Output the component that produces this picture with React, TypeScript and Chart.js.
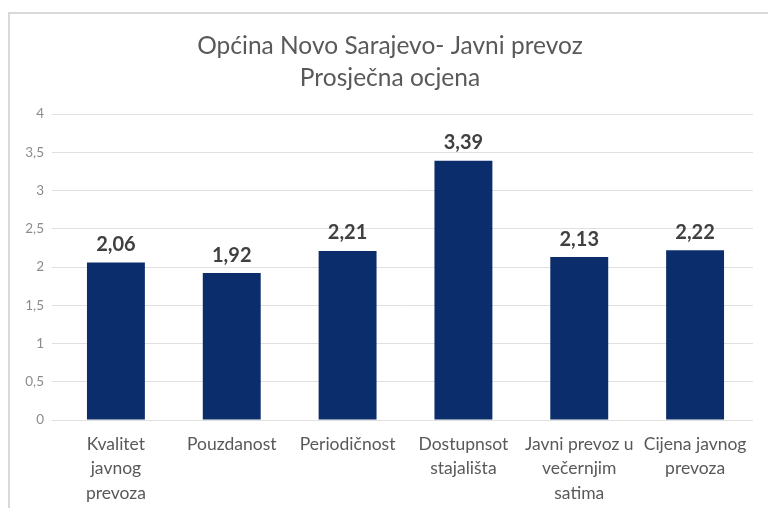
import React, { useEffect, useRef } from "react";
import { Chart, registerables } from "chart.js";

Chart.register(...registerables);

const titleLines = ["Općina Novo Sarajevo- Javni prevoz", "Prosječna ocjena"];
const categories: (string | string[])[] = [
  ["Kvalitet", "javnog", "prevoza"],
  "Pouzdanost",
  "Periodičnost",
  ["Dostupnsot", "stajališta"],
  ["Javni prevoz u", "večernjim", "satima"],
  ["Cijena javnog", "prevoza"],
];
const values = [2.06, 1.92, 2.21, 3.39, 2.13, 2.22];
const yMin = 0;
const yMax = 4;
const yStep = 0.5;

const FONT = "Lato, 'Open Sans', sans-serif";
const fmt = (v: number, d: number) => v.toFixed(d).replace(".", ",");

const framePlugin = {
  id: "frame",
  beforeDraw(chart: any) {
    const ctx = chart.ctx;
    ctx.save();
    ctx.fillStyle = "#ffffff";
    ctx.fillRect(0, 0, chart.width, chart.height);
    ctx.strokeStyle = "#d9d9d9";
    ctx.lineWidth = 2;
    ctx.beginPath();
    ctx.moveTo(9, chart.height);
    ctx.lineTo(9, 13);
    ctx.lineTo(chart.width, 13);
    ctx.stroke();
    ctx.restore();
  },
};

const titlePlugin = {
  id: "customTitle",
  afterDraw(chart: any) {
    const ctx = chart.ctx;
    ctx.save();
    ctx.fillStyle = "#595959";
    ctx.font = `24.5px ${FONT}`;
    ctx.textAlign = "center";
    ctx.textBaseline = "middle";
    const cx = 390;
    ctx.fillText(titleLines[0], cx, 46);
    ctx.fillText(titleLines[1], cx, 78);
    ctx.restore();
  },
};

const valueLabelPlugin = {
  id: "valueLabels",
  afterDatasetsDraw(chart: any) {
    const ctx = chart.ctx;
    const meta = chart.getDatasetMeta(0);
    ctx.save();
    ctx.fillStyle = "#404040";
    ctx.font = `bold 20px ${FONT}`;
    ctx.textAlign = "center";
    ctx.textBaseline = "bottom";
    meta.data.forEach((bar: any, i: number) => {
      ctx.fillText(fmt(values[i], 2), bar.x, bar.y - 8);
    });
    ctx.restore();
  },
};

export default function App() {
  const ref = useRef<HTMLCanvasElement>(null);
  useEffect(() => {
    if (!ref.current) return;
    const chart = new Chart(ref.current, {
      type: "bar",
      data: {
        labels: categories,
        datasets: [
          {
            data: values,
            backgroundColor: "#0c2d6b",
            barPercentage: 0.5,
            categoryPercentage: 1,
          },
        ],
      },
      options: {
        responsive: false,
        animation: false,
        layout: { padding: { top: 114, right: 15, bottom: 0, left: 0 } },
        plugins: {
          legend: { display: false },
          title: { display: false },
          tooltip: { enabled: false },
        },
        scales: {
          x: {
            grid: { display: false },
            border: { display: false },
            ticks: {
              color: "#595959",
              font: { family: FONT, size: 17.5, lineHeight: 1.4 },
              padding: 4,
              maxRotation: 0,
              autoSkip: false,
            },
            afterFit: (s: any) => {
              s.height = 88;
            },
          },
          y: {
            min: yMin,
            max: yMax,
            border: { display: false },
            grid: { color: "#e0e0e0", tickLength: 6, drawTicks: true },
            ticks: {
              stepSize: yStep,
              color: "#8c8c8c",
              font: { family: FONT, size: 13.5 },
              padding: 8,
              callback: (v: any) => (Number.isInteger(v) ? String(v) : fmt(Number(v), 1)),
            },
            afterFit: (s: any) => {
              s.width = 58;
            },
          },
        },
      },
      plugins: [framePlugin, titlePlugin, valueLabelPlugin],
    });
    return () => chart.destroy();
  }, []);
  return (
    <div style={{ position: "fixed", left: 0, top: 0, width: 768, height: 508 }}>
      <canvas ref={ref} width={768} height={508} style={{ display: "block" }} />
    </div>
  );
}
